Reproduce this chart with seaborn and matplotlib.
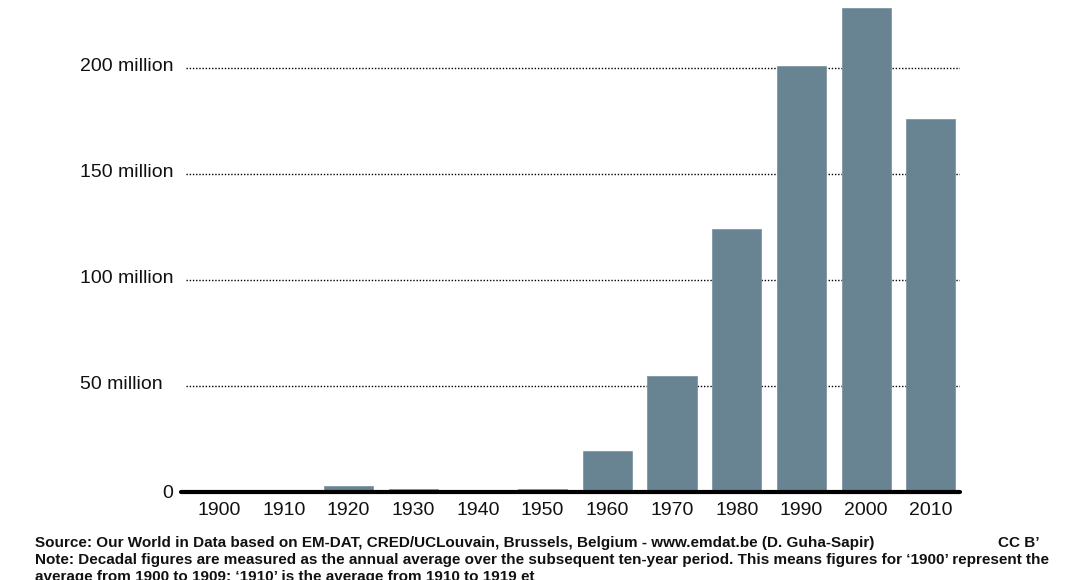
import matplotlib
matplotlib.use("Agg")
import matplotlib.pyplot as plt
import matplotlib.transforms as mtransforms
import seaborn as sns
import pandas as pd

decades = ["1900", "1910", "1920", "1930", "1940", "1950",
           "1960", "1970", "1980", "1990", "2000", "2010"]
# annual average people affected, in millions
affected_millions = [0.1, 0.1, 2.8, 1.6, 0.2, 1.6,
                     19.2, 54.7, 124.0, 201.0, 228.0, 176.0]

y_ticks = [0, 50, 100, 150, 200]
y_tick_labels = ["0", "50 million", "100 million", "150 million", "200 million"]

source_text = ("Source: Our World in Data based on EM-DAT, CRED/UCLouvain, Brussels, "
               "Belgium - www.emdat.be (D. Guha-Sapir)")
licence_text = "CC B\u2019"
note_text = ("Note: Decadal figures are measured as the annual average over the subsequent "
             "ten-year period. This means figures for \u20181900\u2019 represent the\n"
             "average from 1900 to 1909; \u20181910\u2019 is the average from 1910 to 1919 et")

sns.set_theme(style="white")
plt.rcParams["font.family"] = ["Liberation Sans", "DejaVu Sans"]

df = pd.DataFrame({"decade": decades, "affected": affected_millions})

fig = plt.figure(figsize=(10.68, 5.8), dpi=100)
ax = fig.add_axes([181 / 1068, 88 / 580, (960 - 181) / 1068, 492 / 580])

sns.barplot(data=df, x="decade", y="affected", color="#688493", saturation=1,
            width=0.76, edgecolor="#7f98a4", linewidth=0.6, ax=ax, zorder=2)

ax.set_xlim(-0.59, 11.45)
ax.set_ylim(0, 232)
ax.set_xlabel("")
ax.set_ylabel("")
for s in ax.spines.values():
    s.set_visible(False)

# dotted gridlines
for t in y_ticks[1:]:
    ax.axhline(t, xmin=0.006, xmax=1, color="black", lw=1.0,
               linestyle=(0, (1, 1.3)), zorder=1)
ax.axhline(0, color="black", lw=3, zorder=3, clip_on=False)

ax.set_yticks([])
ax.tick_params(axis="x", length=0, pad=7, labelsize=14, colors="#111111")

# y labels: "million" labels start at a common left edge, "0" sits by the axis
trans = mtransforms.blended_transform_factory(fig.transFigure, ax.transData)
for t, lab in zip(y_ticks, y_tick_labels):
    if t == 0:
        ax.text(173 / 1068, t - 0.8, lab, transform=trans, ha="right", va="center",
                fontsize=14, color="#111111")
    else:
        ax.text(80 / 1068, t + 0.8, lab, transform=trans, ha="left", va="center",
                fontsize=14, color="#111111")

fig.text(35 / 1068, 1 - 543 / 580, source_text, ha="left", va="center",
         fontsize=11, fontweight="bold", color="#111111")
fig.text(998 / 1068, 1 - 543 / 580, licence_text, ha="left", va="center",
         fontsize=11, fontweight="bold", color="#111111")
fig.text(35 / 1068, 1 - 553 / 580, note_text, ha="left", va="top",
         fontsize=11, fontweight="bold", color="#111111", linespacing=1.28)

fig.savefig("out.png", dpi=100)
plt.close(fig)
